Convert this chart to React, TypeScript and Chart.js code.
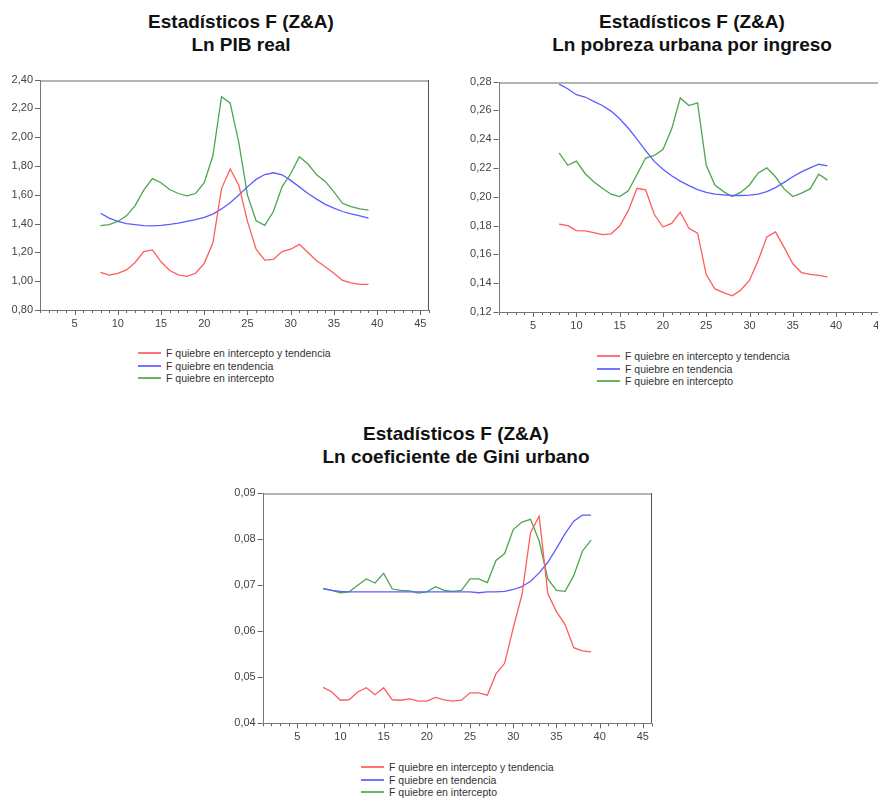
import React, { useEffect, useRef } from "react";
import { Chart, registerables } from "chart.js";

Chart.register(...registerables);

const PERIODS = [8, 9, 10, 11, 12, 13, 14, 15, 16, 17, 18, 19, 20, 21, 22, 23, 24, 25, 26, 27, 28, 29, 30, 31, 32, 33, 34, 35, 36, 37, 38, 39];

const LEGEND_LABELS = [
  "F quiebre en intercepto y tendencia",
  "F quiebre en tendencia",
  "F quiebre en intercepto",
];
const SERIES_COLORS = ["#ff5c5c", "#5c5cff", "#4da64d"];

// Chart 1: Ln PIB real
const PIB_INTER_TEND = [1.062, 1.042, 1.055, 1.078, 1.13, 1.206, 1.217, 1.135, 1.074, 1.044, 1.033, 1.055, 1.124, 1.267, 1.643, 1.78, 1.666, 1.415, 1.222, 1.147, 1.151, 1.206, 1.222, 1.256, 1.199, 1.142, 1.101, 1.055, 1.005, 0.989, 0.978, 0.978];
const PIB_TEND = [1.472, 1.438, 1.415, 1.4, 1.393, 1.386, 1.384, 1.388, 1.395, 1.404, 1.415, 1.427, 1.443, 1.466, 1.502, 1.545, 1.598, 1.655, 1.707, 1.741, 1.753, 1.739, 1.7, 1.655, 1.609, 1.57, 1.534, 1.507, 1.484, 1.468, 1.454, 1.438];
const PIB_INTER = [1.386, 1.393, 1.415, 1.454, 1.525, 1.632, 1.712, 1.684, 1.637, 1.609, 1.593, 1.609, 1.684, 1.871, 2.281, 2.236, 1.962, 1.598, 1.42, 1.388, 1.484, 1.655, 1.746, 1.864, 1.814, 1.739, 1.693, 1.62, 1.541, 1.518, 1.502, 1.493];

// Chart 2: Ln pobreza urbana por ingreso
const POB_INTER_TEND = [0.181, 0.18, 0.1765, 0.1763, 0.1752, 0.1738, 0.1743, 0.1797, 0.1904, 0.2059, 0.2048, 0.1877, 0.179, 0.1815, 0.1893, 0.1781, 0.1747, 0.146, 0.136, 0.1335, 0.1312, 0.1353, 0.1421, 0.1558, 0.1722, 0.1756, 0.1649, 0.1535, 0.1474, 0.1462, 0.1455, 0.1444];
const POB_TEND = [0.2782, 0.275, 0.2709, 0.2693, 0.2663, 0.2634, 0.2595, 0.2542, 0.2476, 0.2401, 0.2321, 0.2246, 0.2191, 0.2146, 0.2109, 0.2078, 0.205, 0.203, 0.2018, 0.2014, 0.2009, 0.2009, 0.2011, 0.2018, 0.2036, 0.2064, 0.21, 0.2139, 0.2173, 0.2201, 0.2226, 0.2214];
const POB_INTER = [0.2305, 0.2219, 0.2248, 0.2162, 0.2105, 0.2059, 0.2018, 0.2002, 0.2041, 0.2155, 0.2269, 0.2287, 0.2328, 0.247, 0.2686, 0.2634, 0.2652, 0.2219, 0.2082, 0.2036, 0.2002, 0.2032, 0.2082, 0.2166, 0.2201, 0.2139, 0.2055, 0.2002, 0.2025, 0.2055, 0.2157, 0.2116];

// Chart 3: Ln coeficiente de Gini urbano
const GINI_INTER_TEND = [0.0478, 0.0468, 0.045, 0.0451, 0.0468, 0.0477, 0.0462, 0.0477, 0.0451, 0.045, 0.0453, 0.0448, 0.0448, 0.0456, 0.0451, 0.0448, 0.045, 0.0466, 0.0466, 0.0461, 0.0507, 0.053, 0.0607, 0.0678, 0.0813, 0.0849, 0.0681, 0.0642, 0.0614, 0.0564, 0.0557, 0.0555];
const GINI_TEND = [0.0692, 0.0688, 0.0686, 0.0685, 0.0685, 0.0685, 0.0685, 0.0685, 0.0685, 0.0685, 0.0685, 0.0685, 0.0685, 0.0685, 0.0685, 0.0685, 0.0685, 0.0685, 0.0683, 0.0685, 0.0685, 0.0686, 0.069, 0.0696, 0.0708, 0.0726, 0.0749, 0.0779, 0.0811, 0.0838, 0.0851, 0.0851];
const GINI_INTER = [0.0692, 0.0688, 0.0683, 0.0685, 0.0699, 0.0713, 0.0704, 0.0725, 0.0691, 0.0688, 0.0687, 0.0682, 0.0685, 0.0696, 0.0688, 0.0686, 0.0688, 0.0713, 0.0713, 0.0705, 0.0753, 0.0768, 0.082, 0.0836, 0.0842, 0.0795, 0.0713, 0.0688, 0.0686, 0.072, 0.0773, 0.0797];

const TITLE_TOP = "Estadísticos F (Z&A)";

const framePlugin = {
  id: "frameTicks",
  afterDraw(chart: any) {
    const { ctx, chartArea } = chart;
    const { left, right, top, bottom } = chartArea;
    const xs = chart.scales.x;
    const ys = chart.scales.y;
    ctx.save();
    ctx.lineWidth = 1;
    ctx.strokeStyle = "#666";
    ys.ticks.forEach((t: any) => {
      const py = Math.round(ys.getPixelForValue(t.value)) + 0.5;
      ctx.beginPath();
      ctx.moveTo(left - 5, py);
      ctx.lineTo(left, py);
      ctx.stroke();
    });
    xs.ticks.forEach((t: any) => {
      const px = Math.round(xs.getPixelForValue(t.value)) + 0.5;
      const len = t.value % 5 === 0 ? 5 : 3;
      ctx.beginPath();
      ctx.moveTo(px, bottom);
      ctx.lineTo(px, bottom + len);
      ctx.stroke();
    });
    const l = Math.round(left) + 0.5;
    const r = Math.round(right) - 0.5;
    const t = Math.round(top);
    const b = Math.round(bottom) + 0.5;
    ctx.strokeStyle = "#b4b4b4";
    ctx.lineWidth = 2;
    ctx.beginPath();
    ctx.moveTo(l, t + 1);
    ctx.lineTo(r, t + 1);
    ctx.stroke();
    ctx.lineWidth = 1;
    ctx.strokeStyle = "#555";
    ctx.beginPath();
    ctx.moveTo(r, t);
    ctx.lineTo(r, b);
    ctx.stroke();
    ctx.strokeStyle = "#777";
    ctx.beginPath();
    ctx.moveTo(l, t);
    ctx.lineTo(l, b);
    ctx.lineTo(r, b);
    ctx.stroke();
    ctx.restore();
  },
};

type PanelProps = {
  subtitle: string;
  series: number[][];
  yMin: number;
  yMax: number;
  yStep: number;
  canvasLeft: number;
  canvasTop: number;
  canvasWidth: number;
  canvasHeight: number;
  yAxisWidth: number;
  xAxisHeight: number;
  padRight: number;
  titleCenter: number;
  titleTop: number;
  legendLeft: number;
  legendTop: number;
};

function Panel(p: PanelProps) {
  const ref = useRef<HTMLCanvasElement | null>(null);
  useEffect(() => {
    if (!ref.current) return;
    const chart = new Chart(ref.current, {
      type: "line",
      data: {
        datasets: p.series.map((vals, i) => ({
          label: LEGEND_LABELS[i],
          data: vals.map((v, j) => ({ x: PERIODS[j], y: v })),
          borderColor: SERIES_COLORS[i],
          borderWidth: 1.3,
          pointRadius: 0,
          tension: 0,
          fill: false,
        })),
      },
      options: {
        animation: false,
        responsive: false,
        maintainAspectRatio: false,
        layout: { padding: { top: 10, right: p.padRight, left: 0, bottom: 0 } },
        plugins: {
          legend: { display: false },
          title: { display: false },
          tooltip: { enabled: false },
        },
        scales: {
          x: {
            type: "linear",
            min: 1,
            max: 46,
            grid: { display: false, drawTicks: false },
            border: { display: false },
            afterFit: (s: any) => {
              s.height = p.xAxisHeight;
            },
            ticks: {
              stepSize: 1,
              autoSkip: false,
              maxRotation: 0,
              padding: 7,
              color: "#444",
              font: { family: "Arial, 'Liberation Sans', sans-serif", size: 11 },
              callback: (v: any) => (Number(v) % 5 === 0 ? String(v) : ""),
            },
          },
          y: {
            type: "linear",
            min: p.yMin,
            max: p.yMax,
            grid: { display: false, drawTicks: false },
            border: { display: false },
            afterFit: (s: any) => {
              s.width = p.yAxisWidth;
            },
            ticks: {
              stepSize: p.yStep,
              padding: 7,
              color: "#444",
              font: { family: "Arial, 'Liberation Sans', sans-serif", size: 11 },
              callback: (v: any) => Number(v).toFixed(2).replace(".", ","),
            },
          },
        },
      },
      plugins: [framePlugin],
    } as any);
    return () => chart.destroy();
  }, []);

  return (
    <>
      <div
        style={{
          position: "absolute",
          left: p.titleCenter - 250,
          top: p.titleTop,
          width: 500,
          textAlign: "center",
          fontFamily: "Arial, 'Liberation Sans', sans-serif",
          fontWeight: "bold",
          fontSize: 19,
          lineHeight: "23px",
          color: "#111",
        }}
      >
        <div>{TITLE_TOP}</div>
        <div>{p.subtitle}</div>
      </div>
      <canvas
        ref={ref}
        width={p.canvasWidth}
        height={p.canvasHeight}
        style={{
          position: "absolute",
          left: p.canvasLeft,
          top: p.canvasTop,
          width: p.canvasWidth,
          height: p.canvasHeight,
        }}
      />
      <div
        style={{
          position: "absolute",
          left: p.legendLeft,
          top: p.legendTop,
          fontFamily: "Arial, 'Liberation Sans', sans-serif",
          fontSize: 10.5,
          color: "#333",
        }}
      >
        {LEGEND_LABELS.map((lab, i) => (
          <div key={i} style={{ display: "flex", alignItems: "center", height: 12.5, whiteSpace: "nowrap" }}>
            <div style={{ width: 23, height: 2, background: SERIES_COLORS[i], opacity: 0.85, marginRight: 5 }} />
            <span>{lab}</span>
          </div>
        ))}
      </div>
    </>
  );
}

export default function App() {
  return (
    <div
      style={{
        position: "fixed",
        left: 0,
        top: 0,
        width: 878,
        height: 798,
        overflow: "hidden",
        background: "#fff",
      }}
    >
      <Panel
        subtitle="Ln PIB real"
        series={[PIB_INTER_TEND, PIB_TEND, PIB_INTER]}
        yMin={0.8}
        yMax={2.4}
        yStep={0.2}
        canvasLeft={0}
        canvasTop={66}
        canvasWidth={440}
        canvasHeight={270}
        yAxisWidth={40}
        xAxisHeight={26}
        padRight={11}
        titleCenter={241}
        titleTop={10}
        legendLeft={138}
        legendTop={347}
      />
      <Panel
        subtitle="Ln pobreza urbana por ingreso"
        series={[POB_INTER_TEND, POB_TEND, POB_INTER]}
        yMin={0.12}
        yMax={0.28}
        yStep={0.02}
        canvasLeft={440}
        canvasTop={68}
        canvasWidth={460}
        canvasHeight={270}
        yAxisWidth={58.5}
        xAxisHeight={26}
        padRight={12}
        titleCenter={692}
        titleTop={10}
        legendLeft={597}
        legendTop={350}
      />
      <Panel
        subtitle="Ln coeficiente de Gini urbano"
        series={[GINI_INTER_TEND, GINI_TEND, GINI_INTER]}
        yMin={0.04}
        yMax={0.09}
        yStep={0.01}
        canvasLeft={220}
        canvasTop={479}
        canvasWidth={442}
        canvasHeight={270}
        yAxisWidth={42.7}
        xAxisHeight={25.7}
        padRight={10.5}
        titleCenter={456}
        titleTop={422}
        legendLeft={361}
        legendTop={761}
      />
    </div>
  );
}
